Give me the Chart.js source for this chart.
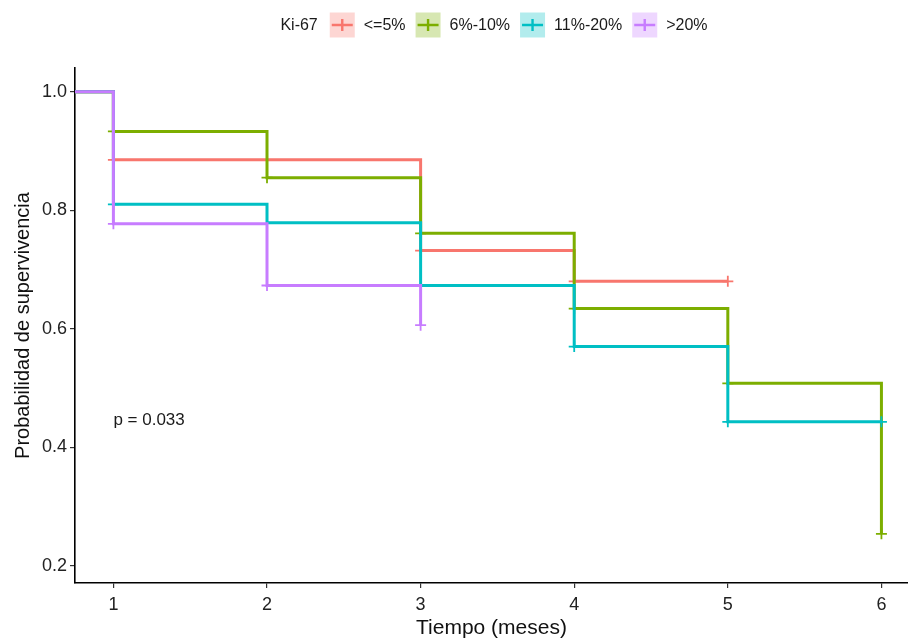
<!DOCTYPE html>
<html>
<head>
<meta charset="utf-8">
<script src="https://cdn.jsdelivr.net/npm/chart.js@4.4.1/dist/chart.umd.min.js"></script>
<style>
  html, body { margin: 0; padding: 0; background: #fff; }
  #wrap { width: 908px; height: 641px; }
</style>
</head>
<body>
<div id="wrap"><canvas id="km" width="908" height="641"></canvas></div>
<script>
// Kaplan-Meier curves by Ki-67 group
const legendTitle = 'Ki-67';
const groups = ['<=5%', '6%-10%', '11%-20%', '>20%'];
const colors = ['#F8766D', '#7CAE00', '#00BFC4', '#C77CFF'];

// step times and survival after each step
const timesLow = [0, 1, 3, 4, 5];
const survLow = [1.0, 0.885, 0.732, 0.680, 0.680];
const timesMid = [0, 1, 2, 3, 4, 5, 6];
const survMid = [1.0, 0.933, 0.855, 0.761, 0.634, 0.508, 0.254];
const timesHigh = [0, 1, 2, 3, 4, 5, 6];
const survHigh = [1.0, 0.810, 0.779, 0.673, 0.570, 0.443, 0.443];
const timesVeryHigh = [0, 1, 2, 3];
const survVeryHigh = [1.0, 0.777, 0.673, 0.606];

// censor marks (+)
const censorTimesLow = [1, 3, 4, 5];
const censorSurvLow = [0.885, 0.732, 0.680, 0.680];
const censorTimesMid = [1, 2, 3, 4, 5, 6];
const censorSurvMid = [0.933, 0.855, 0.761, 0.634, 0.508, 0.254];
const censorTimesHigh = [1, 4, 5, 6];
const censorSurvHigh = [0.810, 0.570, 0.443, 0.443];
const censorTimesVeryHigh = [1, 2, 3];
const censorSurvVeryHigh = [0.777, 0.673, 0.606];

const xTicks = [1, 2, 3, 4, 5, 6];
const yTicks = [0.2, 0.4, 0.6, 0.8, 1.0];
const pValueText = 'p = 0.033';
const pValueAt = { x: 1, y: 0.446 };

const FONT = '"Liberation Sans", Arial, Helvetica, sans-serif';
Chart.defaults.font.family = FONT;

const toPts = (xs, ys) => xs.map((x, i) => ({ x: x, y: ys[i] }));
const alpha = (hex, a) => {
  const n = parseInt(hex.slice(1), 16);
  return `rgba(${(n >> 16) & 255},${(n >> 8) & 255},${n & 255},${a})`;
};

const curves = [
  [timesLow, survLow], [timesMid, survMid], [timesHigh, survHigh], [timesVeryHigh, survVeryHigh]
];
const censors = [
  [censorTimesLow, censorSurvLow], [censorTimesMid, censorSurvMid],
  [censorTimesHigh, censorSurvHigh], [censorTimesVeryHigh, censorSurvVeryHigh]
];

const datasets = [];
groups.forEach((g, i) => {
  datasets.push({
    label: g,
    data: toPts(curves[i][0], curves[i][1]),
    borderColor: colors[i],
    borderWidth: 3,
    stepped: true,
    pointRadius: 0,
    fill: false,
    order: 10 - i * 2
  });
  datasets.push({
    label: g + ' censor',
    data: toPts(censors[i][0], censors[i][1]),
    showLine: false,
    pointStyle: 'cross',
    pointRadius: 5.5,
    pointBorderWidth: 1.8,
    pointBorderColor: colors[i],
    pointBackgroundColor: colors[i],
    order: 9 - i * 2
  });
});

// legend along the top, ggplot style
const kmLegend = {
  id: 'kmLegend',
  afterDraw(chart) {
    const ctx = chart.ctx;
    ctx.save();
    ctx.font = '16px ' + FONT;
    ctx.textBaseline = 'middle';
    ctx.fillStyle = '#1a1a1a';
    const box = 25, cy = 25, titleGap = 12, textGap = 9, itemGap = 10;
    let total = ctx.measureText(legendTitle).width + titleGap;
    groups.forEach((g, i) => {
      total += box + textGap + ctx.measureText(g).width + (i < groups.length - 1 ? itemGap : 0);
    });
    let x = 494 - total / 2;
    ctx.fillText(legendTitle, x, cy + 1);
    x += ctx.measureText(legendTitle).width + titleGap;
    groups.forEach((g, i) => {
      ctx.fillStyle = alpha(colors[i], 0.3);
      ctx.fillRect(x, cy - box / 2, box, box);
      ctx.strokeStyle = colors[i];
      ctx.lineWidth = 2.4;
      ctx.beginPath();
      ctx.moveTo(x + 2, cy); ctx.lineTo(x + box - 2, cy);
      ctx.moveTo(x + box / 2, cy - 6); ctx.lineTo(x + box / 2, cy + 6);
      ctx.stroke();
      x += box + textGap;
      ctx.fillStyle = '#1a1a1a';
      ctx.fillText(g, x, cy + 1);
      x += ctx.measureText(g).width + itemGap;
    });
    // p value
    const xs = chart.scales.x, ys = chart.scales.y;
    ctx.font = '17px ' + FONT;
    ctx.fillStyle = '#1a1a1a';
    ctx.fillText(pValueText, xs.getPixelForValue(pValueAt.x), ys.getPixelForValue(pValueAt.y));
    ctx.restore();
  }
};

new Chart(document.getElementById('km'), {
  type: 'line',
  data: { datasets: datasets },
  plugins: [kmLegend],
  options: {
    responsive: false,
    animation: false,
    layout: { autoPadding: false, padding: { top: 68, right: 0, left: 0, bottom: 0 } },
    plugins: { legend: { display: false }, tooltip: { enabled: false } },
    scales: {
      x: {
        type: 'linear',
        min: 0.75,
        max: 6.173,
        afterBuildTicks: s => { s.ticks = xTicks.map(v => ({ value: v })); },
        afterFit: s => { s.height = 58; },
        border: { color: '#000', width: 1.6 },
        grid: { drawOnChartArea: false, tickLength: 5, color: '#333', lineWidth: 1.2 },
        ticks: { color: '#222', font: { size: 18 }, padding: 6, maxRotation: 0 },
        title: {
          display: true, text: 'Tiempo (meses)', color: '#111',
          font: { size: 21 }, padding: { top: 0, bottom: 0 }
        }
      },
      y: {
        type: 'linear',
        min: 0.171,
        max: 1.04,
        afterBuildTicks: s => { s.ticks = yTicks.map(v => ({ value: v })); },
        afterFit: s => { s.width = 75; },
        border: { color: '#000', width: 1.6 },
        grid: { drawOnChartArea: false, tickLength: 5, color: '#333', lineWidth: 1.2 },
        ticks: { color: '#222', font: { size: 18 }, padding: 3, callback: v => v.toFixed(1) },
        title: {
          display: true, text: 'Probabilidad de supervivencia', color: '#111',
          font: { size: 20 }, padding: { top: 11, bottom: 0 }
        }
      }
    }
  }
});
</script>
</body>
</html>
